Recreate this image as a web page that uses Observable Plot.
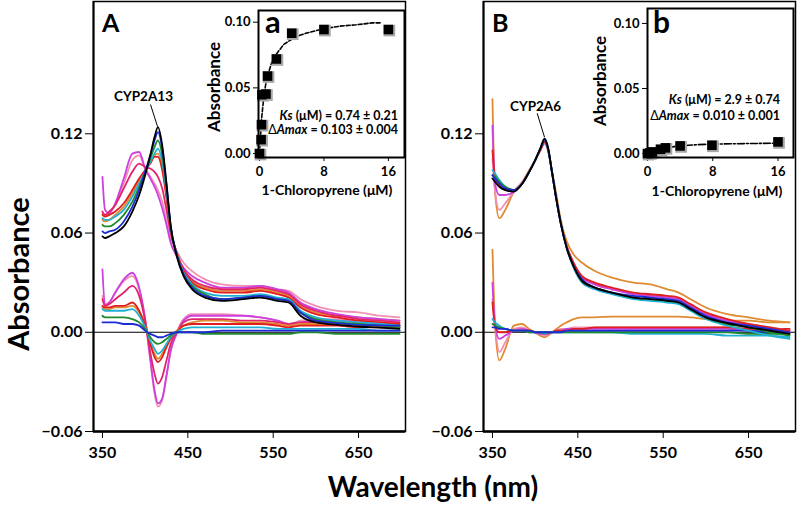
<!DOCTYPE html>
<html><head><meta charset="utf-8">
<script src="https://cdn.jsdelivr.net/npm/d3@7"></script>
<script src="https://cdn.jsdelivr.net/npm/@observablehq/plot@0.6"></script>
<style>
body{margin:0;background:#fff;}
#chart{position:relative;width:800px;height:505px;overflow:hidden;background:#fff}
#chart svg{position:absolute;overflow:visible}
</style></head><body><div id="chart"></div>
<script>
// ---------- shared wavelength grid (nm) ----------
const wl = [350,353,358,365,375,385,393,400,406,411,415,420,425,430,437,445,455,470,490,515,535,555,568,582,600,625,650,675,698];
const xTicks = [350,450,550,650];
const yTicks = [-0.06,0,0.06,0.12];

// ---------- Panel A (CYP2A13) absolute spectra ----------
const aBlack   = [0.058,0.057,0.058,0.060,0.064,0.073,0.083,0.095,0.107,0.118,0.124,0.113,0.090,0.064,0.046,0.034,0.026,0.021,0.019,0.020,0.021,0.019,0.018,0.010,0.006,0.0045,0.0035,0.0028,0.002];
const aBlue    = [0.061,0.060,0.061,0.062,0.067,0.076,0.086,0.097,0.107,0.116,0.121,0.111,0.089,0.064,0.047,0.035,0.027,0.022,0.020,0.021,0.022,0.020,0.019,0.012,0.007,0.0055,0.0045,0.0042,0.004];
const aGreen   = [0.065,0.064,0.064,0.066,0.071,0.079,0.088,0.097,0.105,0.112,0.116,0.107,0.087,0.063,0.047,0.035,0.028,0.023,0.020,0.021,0.022,0.020,0.019,0.012,0.008,0.006,0.005,0.004,0.003];
const aCyan    = [0.069,0.068,0.068,0.070,0.074,0.082,0.090,0.097,0.103,0.108,0.111,0.103,0.085,0.063,0.047,0.036,0.029,0.024,0.022,0.022,0.023,0.021,0.020,0.013,0.009,0.007,0.006,0.005,0.004];
const aOrange  = [0.068,0.067,0.068,0.071,0.076,0.084,0.092,0.098,0.103,0.107,0.108,0.100,0.083,0.062,0.048,0.037,0.031,0.027,0.025,0.025,0.026,0.024,0.022,0.016,0.012,0.010,0.009,0.008,0.007];
const aRed     = [0.071,0.070,0.071,0.073,0.078,0.086,0.093,0.098,0.102,0.106,0.106,0.098,0.081,0.061,0.048,0.037,0.030,0.026,0.024,0.024,0.025,0.023,0.021,0.015,0.011,0.009,0.007,0.006,0.005];
const aCrimson = [0.073,0.071,0.073,0.077,0.087,0.097,0.102,0.100,0.099,0.097,0.094,0.087,0.074,0.060,0.048,0.038,0.032,0.028,0.026,0.026,0.027,0.025,0.023,0.017,0.013,0.010,0.008,0.007,0.006];
const aMagenta = [0.094,0.074,0.072,0.078,0.093,0.108,0.109,0.099,0.093,0.088,0.083,0.075,0.065,0.054,0.046,0.039,0.034,0.030,0.027,0.027,0.028,0.026,0.024,0.018,0.014,0.011,0.009,0.008,0.007];
const aPink    = [0.072,0.071,0.072,0.077,0.090,0.104,0.107,0.099,0.094,0.090,0.086,0.079,0.068,0.057,0.049,0.042,0.037,0.032,0.029,0.028,0.028,0.026,0.025,0.020,0.016,0.013,0.012,0.010,0.009];

// ---------- Panel A difference spectra ----------
const dBlue    = [0.006,0.006,0.006,0.006,0.005,0.005,0.004,0.001,-0.001,-0.002,-0.003,-0.003,-0.002,-0.001,0.000,0.000,0.000,0.000,0.001,0.001,0.001,0.001,0.001,0.001,0.001,0.001,0.001,0.001,0.001];
const dGreen   = [0.010,0.009,0.009,0.009,0.009,0.008,0.006,0.002,-0.003,-0.006,-0.007,-0.006,-0.004,-0.002,0.000,0.000,0.000,-0.001,-0.001,-0.001,-0.001,-0.001,-0.001,0.000,0.000,-0.001,-0.001,-0.001,-0.001];
const dCyan    = [0.014,0.013,0.013,0.013,0.013,0.014,0.010,0.003,-0.005,-0.010,-0.013,-0.011,-0.007,-0.003,0.000,0.002,0.003,0.003,0.003,0.003,0.003,0.002,0.002,0.002,0.002,0.002,0.002,0.001,0.001];
const dOrange  = [0.015,0.014,0.014,0.015,0.015,0.016,0.012,0.004,-0.006,-0.013,-0.016,-0.013,-0.008,-0.003,0.001,0.004,0.006,0.007,0.007,0.006,0.006,0.005,0.004,0.005,0.005,0.005,0.005,0.004,0.004];
const dRed     = [0.016,0.015,0.015,0.016,0.016,0.018,0.013,0.004,-0.007,-0.015,-0.018,-0.015,-0.009,-0.004,0.000,0.004,0.005,0.005,0.005,0.005,0.005,0.004,0.003,0.004,0.004,0.004,0.003,0.003,0.003];
const dCrimson = [0.020,0.016,0.017,0.020,0.024,0.028,0.022,0.007,-0.012,-0.025,-0.031,-0.027,-0.017,-0.007,0.000,0.006,0.008,0.008,0.008,0.007,0.007,0.006,0.005,0.006,0.006,0.005,0.005,0.004,0.004];
const dMagenta = [0.038,0.016,0.018,0.024,0.032,0.036,0.027,0.008,-0.016,-0.035,-0.043,-0.040,-0.026,-0.011,-0.001,0.007,0.010,0.010,0.010,0.010,0.009,0.007,0.005,0.006,0.007,0.007,0.006,0.005,0.004];
const dPink    = [0.022,0.017,0.018,0.024,0.031,0.034,0.026,0.008,-0.017,-0.037,-0.045,-0.041,-0.027,-0.011,0.000,0.008,0.011,0.011,0.011,0.010,0.009,0.007,0.005,0.007,0.008,0.008,0.007,0.006,0.005];

// ---------- Panel B (CYP2A6) absolute spectra ----------
const bBlack   = [0.093,0.091,0.088,0.086,0.085,0.090,0.097,0.104,0.111,0.117,0.112,0.096,0.080,0.066,0.051,0.040,0.031,0.027,0.024,0.021,0.020,0.019,0.018,0.014,0.009,0.0055,0.003,0.001,-0.001];
const bBlue    = [0.095,0.093,0.090,0.087,0.086,0.090,0.097,0.104,0.111,0.116,0.111,0.096,0.080,0.066,0.051,0.040,0.032,0.027,0.024,0.022,0.021,0.020,0.019,0.015,0.010,0.006,0.004,0.002,0.000];
const bGreen   = [0.095,0.094,0.091,0.088,0.086,0.090,0.097,0.104,0.111,0.116,0.111,0.096,0.080,0.066,0.051,0.040,0.031,0.027,0.024,0.021,0.020,0.019,0.018,0.014,0.009,0.005,0.003,0.000,-0.002];
const bCyan    = [0.098,0.096,0.092,0.088,0.086,0.090,0.097,0.104,0.111,0.116,0.111,0.096,0.080,0.066,0.051,0.039,0.030,0.026,0.023,0.020,0.019,0.018,0.017,0.013,0.008,0.004,0.001,-0.002,-0.004];
const bRed     = [0.110,0.094,0.089,0.086,0.086,0.090,0.097,0.104,0.110,0.115,0.111,0.096,0.080,0.066,0.052,0.042,0.034,0.030,0.027,0.024,0.023,0.022,0.021,0.017,0.012,0.008,0.005,0.003,0.001];
const bMagenta = [0.125,0.090,0.083,0.083,0.085,0.090,0.097,0.104,0.110,0.115,0.111,0.096,0.080,0.066,0.052,0.042,0.033,0.029,0.026,0.023,0.022,0.021,0.020,0.016,0.011,0.007,0.004,0.002,0.000];
const bPink    = [0.105,0.085,0.074,0.078,0.085,0.091,0.097,0.104,0.110,0.114,0.110,0.096,0.080,0.066,0.052,0.042,0.033,0.029,0.026,0.023,0.022,0.021,0.020,0.016,0.011,0.007,0.005,0.003,0.001];
const bOrange  = [0.141,0.085,0.069,0.074,0.085,0.091,0.098,0.104,0.110,0.114,0.110,0.097,0.083,0.068,0.055,0.047,0.042,0.037,0.033,0.030,0.029,0.026,0.024,0.020,0.015,0.011,0.009,0.007,0.006];

// ---------- Panel B difference spectra ----------
const ebOrange  = [0.050,0.005,-0.017,-0.010,0.004,0.005,0.002,0.000,-0.002,-0.003,-0.002,0.000,0.002,0.004,0.006,0.008,0.009,0.009,0.0095,0.0095,0.0095,0.0095,0.0095,0.009,0.008,0.007,0.007,0.006,0.006];
const ebPink    = [0.020,0.004,-0.012,-0.006,0.002,0.003,0.001,0.000,-0.001,-0.002,-0.001,0.000,0.001,0.002,0.002,0.003,0.003,0.003,0.003,0.003,0.003,0.003,0.003,0.003,0.003,0.003,0.002,0.002,0.002];
const ebMagenta = [0.030,0.004,-0.004,-0.002,0.001,0.002,0.001,0.000,-0.001,-0.001,-0.001,0.000,0.001,0.001,0.002,0.002,0.002,0.002,0.002,0.002,0.002,0.002,0.002,0.002,0.002,0.002,0.001,0.001,0.001];
const ebRed     = [0.018,0.004,0.000,0.000,0.001,0.001,0.001,0.000,0.000,-0.001,0.000,0.000,0.001,0.001,0.001,0.002,0.002,0.003,0.003,0.003,0.003,0.003,0.003,0.003,0.003,0.003,0.002,0.002,0.002];
const ebCyan    = [0.008,0.006,0.004,0.002,0.001,0.001,0.000,0.000,0.000,-0.001,0.000,0.000,0.000,0.000,0.000,0.000,0.000,0.000,0.000,-0.001,-0.001,-0.001,-0.001,-0.001,-0.001,-0.002,-0.002,-0.002,-0.003];
const ebGreen   = [0.005,0.004,0.003,0.002,0.001,0.001,0.000,0.000,0.000,0.000,0.000,0.000,0.000,0.000,0.000,0.000,0.000,0.000,0.000,0.000,0.000,0.000,0.000,0.000,0.000,0.000,-0.001,-0.001,-0.001];
const ebBlue    = [0.003,0.003,0.002,0.002,0.001,0.001,0.001,0.000,0.000,0.000,0.000,0.000,0.000,0.000,0.001,0.001,0.001,0.001,0.001,0.001,0.001,0.001,0.001,0.001,0.001,0.001,0.001,0.000,0.000];

// ---------- Insets: titration (1-chloropyrene, µM) ----------
const concA = [0,0.2,0.25,0.3,0.8,1.0,2.1,4.0,8.0,16.0];
const dAbsA = [0,0.0106,0.022,0.0448,0.0453,0.059,0.072,0.0916,0.0944,0.0944];
const fitXA = [0,0.25,0.5,0.75,1,1.5,2,3,4,5,6,8,10,12,14,15];
const fitYA = [0,0.026,0.041,0.052,0.059,0.069,0.075,0.083,0.087,0.090,0.092,0.095,0.097,0.098,0.0995,0.0995];
const concB = [0,0.3,0.6,1.6,2.2,4.0,7.9,16.0];
const dAbsB = [0,0.0005,0.0013,0.0033,0.0044,0.0059,0.0064,0.0090];
const fitXB = [0,0.5,1,2,4,6,8,12,16];
const fitYB = [0,0.0015,0.0026,0.0042,0.0060,0.0068,0.0073,0.0077,0.0080];
const insetXTicks = [0,8,16];
const insetYTicks = [0,0.05,0.10];

// ---------- colours ----------
const C = {black:"#000000", blue:"#1d2bd4", green:"#1f8a2e", cyan:"#20b0d4", orange:"#e08a32",
           red:"#e01e1e", crimson:"#e2246e", magenta:"#cc40e0", pink:"#f290b2"};

// annotations (data coordinates)
const annA = [{label:"CYP2A13", tx:398.1, ty:0.1401, x1:406.3, y1:0.1377, x2:414.5, y2:0.1244}];
const annB = [{label:"CYP2A6",  tx:400.4, ty:0.1340, x1:402.4, y1:0.1324, x2:411.0, y2:0.1179}];

function rows(list){
  const out = [];
  list.forEach(([name,color,vals]) => vals.forEach((v,j) => out.push({s:name, color, wl:wl[j], v})));
  return out;
}
const absA = rows([["pink",C.pink,aPink],["orange",C.orange,aOrange],["magenta",C.magenta,aMagenta],["crimson",C.crimson,aCrimson],["red",C.red,aRed],["cyan",C.cyan,aCyan],["green",C.green,aGreen],["blue",C.blue,aBlue],["black",C.black,aBlack]]);
const difA = rows([["pink",C.pink,dPink],["magenta",C.magenta,dMagenta],["crimson",C.crimson,dCrimson],["orange",C.orange,dOrange],["red",C.red,dRed],["cyan",C.cyan,dCyan],["green",C.green,dGreen],["blue",C.blue,dBlue]]);
const absB = rows([["orange",C.orange,bOrange],["pink",C.pink,bPink],["magenta",C.magenta,bMagenta],["red",C.red,bRed],["cyan",C.cyan,bCyan],["green",C.green,bGreen],["blue",C.blue,bBlue],["black",C.black,bBlack]]);
const difB = rows([["orange",C.orange,ebOrange],["pink",C.pink,ebPink],["magenta",C.magenta,ebMagenta],["red",C.red,ebRed],["cyan",C.cyan,ebCyan],["green",C.green,ebGreen],["blue",C.blue,ebBlue]]);

const FONT = "Lato,'Open Sans','DejaVu Sans',sans-serif";
const chart = document.getElementById("chart");
const xDom = [339.5,705], yDom = [-0.06,0.2];

function spectra(absRows, difRows, ann){
  return Plot.plot({
    width:410, height:465, marginLeft:93, marginRight:5, marginTop:1, marginBottom:34,
    style:`background:transparent;font-family:${FONT};font-weight:bold;font-size:16px;color:#000;overflow:visible`,
    x:{domain:xDom, ticks:xTicks, tickSize:7, tickPadding:8, label:null, tickFormat:d=>String(d)},
    y:{domain:yDom, ticks:yTicks, tickSize:8, tickPadding:3, tickFormat:d3.format(".2f"), label:null},
    color:{type:"identity"},
    marks:[
      Plot.ruleY([0], {stroke:"#000", strokeWidth:1.2}),
      Plot.line(difRows, {x:"wl", y:"v", z:"s", stroke:"color", strokeWidth:1.8, curve:"monotone-x"}),
      Plot.line(absRows, {x:"wl", y:"v", z:"s", stroke:"color", strokeWidth:1.8, curve:"monotone-x"}),
      Plot.link(ann, {x1:"x1", y1:"y1", x2:"x2", y2:"y2", stroke:"#000", strokeWidth:1}),
      Plot.text(ann, {x:"tx", y:"ty", text:"label", fontSize:13.5, fontWeight:"bold", lineAnchor:"bottom", fill:"#000"}),
      Plot.frame({stroke:"#000", strokeWidth:1.5}),
      Plot.ruleY([yDom[0]], {stroke:"#000", strokeWidth:2.4}),
      Plot.ruleX([xDom[0]], {stroke:"#000", strokeWidth:2})
    ]
  });
}

function inset(cx, cy, fx, fy, dash, o){
  const pts = cx.map((c,i)=>({c, v:cy[i]}));
  const fit = fx.map((c,i)=>({c, v:fy[i]}));
  return Plot.plot({
    width:215, height:200, marginLeft:o.ml, marginRight:o.mr, marginTop:o.mt, marginBottom:43,
    style:`background:transparent;font-family:${FONT};font-weight:bold;font-size:13px;color:#000;overflow:visible`,
    x:{domain:o.xd, ticks:insetXTicks, tickSize:4, tickPadding:5, label:null},
    y:{domain:o.yd, ticks:insetYTicks, tickSize:5, tickPadding:3, tickFormat:d3.format(".2f"), label:null},
    marks:[
      Plot.frame({fill:"white", stroke:"none"}),
      Plot.line(fit, {x:"c", y:"v", stroke:"#000", strokeWidth:1.6, strokeDasharray:dash}),
      Plot.dot(pts, {x:"c", y:"v", symbol:"square", r:6.6, fill:"#a9a9a9", dx:1, dy:1}),
      Plot.dot(pts, {x:"c", y:"v", symbol:"square", r:5.4, fill:"#000"}),
      Plot.frame({stroke:"#000", strokeWidth:2})
    ]
  });
}

function place(svg, left, top){ svg.style.left = left+"px"; svg.style.top = top+"px"; chart.appendChild(svg); }

place(spectra(absA, difA, annA), 0, 0);
place(spectra(absB, difB, annB), 390, 0);
place(inset(concA, dAbsA, fitXA, fitYA, "4,2", {ml:63, mr:6, mt:10, xd:[-0.124,18], yd:[-0.003,0.1089]}), 195, 0);
place(inset(concB, dAbsB, fitXB, fitYB, "7,2,2,2", {ml:62, mr:7, mt:8, xd:[0,17.9], yd:[-0.003,0.1115]}), 585, 0);

// ---------- text overlay ----------
const ov = d3.create("svg").attr("width",800).attr("height",505)
  .style("left","0px").style("top","0px").style("pointer-events","none")
  .style("font-family",FONT).style("font-weight","bold").attr("fill","#000");
function txt(x,y,s,size,anchor="start",rot=false){
  const t = ov.append("text").attr("font-size",size).attr("text-anchor",anchor);
  if (rot) t.attr("transform",`translate(${x},${y}) rotate(-90)`).attr("dominant-baseline","central");
  else t.attr("x",x).attr("y",y);
  t.text(s); return t;
}
txt(102,32,"A",25); txt(492,32,"B",25);
txt(265,33,"a",31); txt(653,33,"b",30);
txt(17,274,"Absorbance",29,"middle",true);
txt(433,497,"Wavelength (nm)",28,"middle");
txt(213,87,"Absorbance",17,"middle",true);
txt(599,81,"Absorbance",17,"middle",true);
txt(327,195,"1-Chloropyrene (μM)",14,"middle");
txt(717,196,"1-Chloropyrene (μM)",14,"middle");
function ks(x,y1,y2,k,a){
  const t1 = ov.append("text").attr("x",x).attr("y",y1).attr("font-size",12.5).attr("text-anchor","end");
  t1.append("tspan").attr("font-style","italic").text("Ks");
  t1.append("tspan").text(" (μM) = "+k);
  const t2 = ov.append("text").attr("x",x).attr("y",y2).attr("font-size",12.5).attr("text-anchor","end");
  t2.append("tspan").attr("font-weight","normal").text("Δ");
  t2.append("tspan").attr("font-style","italic").text("Amax");
  t2.append("tspan").text(" = "+a);
}
ks(398,120,134,"0.74 ± 0.21","0.103 ± 0.004");
ks(780,104,120,"2.9 ± 0.74","0.010 ± 0.001");
chart.appendChild(ov.node());
</script></body></html>
